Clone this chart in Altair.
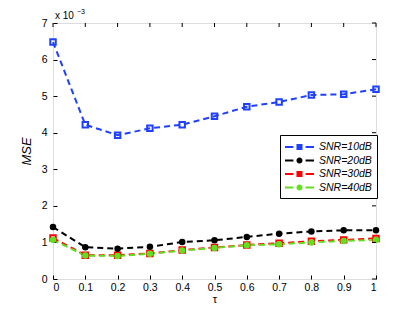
import altair as alt
import pandas as pd

tau = [0, 0.1, 0.2, 0.3, 0.4, 0.5, 0.6, 0.7, 0.8, 0.9, 1.0]
snr10 = [6.48, 4.22, 3.93, 4.12, 4.22, 4.45, 4.71, 4.84, 5.03, 5.05, 5.19]
snr20 = [1.42, 0.87, 0.83, 0.88, 1.01, 1.06, 1.15, 1.24, 1.30, 1.33, 1.33]
snr30 = [1.12, 0.65, 0.65, 0.70, 0.79, 0.86, 0.93, 0.98, 1.03, 1.07, 1.11]
snr40 = [1.07, 0.64, 0.63, 0.69, 0.78, 0.85, 0.92, 0.95, 1.00, 1.04, 1.07]
series = ["SNR=10dB", "SNR=20dB", "SNR=30dB", "SNR=40dB"]
colors = ["#2040ff", "#000000", "#ff0000", "#60e020"]
x_ticks = [0, 0.1, 0.2, 0.3, 0.4, 0.5, 0.6, 0.7, 0.8, 0.9, 1.0]
y_ticks = [0, 1, 2, 3, 4, 5, 6, 7]

rows = []
for name, vals in zip(series, [snr10, snr20, snr30, snr40]):
    for t, v in zip(tau, vals):
        rows.append({"tau": t, "mse": v, "series": name})
df = pd.DataFrame(rows)

# legend glyphs: dash - marker - dash (units scaled by sqrt(size)/2 = 7px)
sq = ("M-1,-0.14L0.2,-0.14L0.2,0.14L-1,0.14Z"
      "M0.64,-0.43L1.5,-0.43L1.5,0.43L0.64,0.43Z"
      "M1.94,-0.14L3.14,-0.14L3.14,0.14L1.94,0.14Z")
ci = ("M-1,-0.14L0.2,-0.14L0.2,0.14L-1,0.14Z"
      "M0.64,0A0.43,0.43,0,1,0,1.5,0A0.43,0.43,0,1,0,0.64,0Z"
      "M1.94,-0.14L3.14,-0.14L3.14,0.14L1.94,0.14Z")

FONT = "Liberation Sans"
xs = alt.Scale(domain=[0, 1], nice=False)
ys = alt.Scale(domain=[0, 7], nice=False)
cscale = alt.Scale(domain=series, range=colors)
shape_expr = ("(datum.value == 'SNR=20dB' || datum.value == 'SNR=40dB') ? '"
              + ci + "' : '" + sq + "'")
leg = alt.Legend(orient="none", legendX=227, legendY=112, title=None,
                 symbolType={"expr": shape_expr}, symbolSize=196, symbolStrokeWidth=0,
                 symbolOpacity=1,
                 labelFont=FONT, labelFontSize=10.5, labelFontStyle="italic",
                 labelColor="#000", strokeColor="#000", fillColor="white",
                 padding=5, rowPadding=0.5, labelOffset=20)

xaxis = alt.Axis(values=x_ticks, format="~g", orient="bottom", offset=-4, tickSize=4,
                 labelPadding=3, domain=False, grid=False, title="τ", titleFontWeight="normal",
                 titleFont=FONT, titleFontSize=11, labelFont=FONT, labelFontSize=10.5,
                 labelColor="#000", tickColor="#000", titlePadding=1, titleColor="#000",
                 labelOverlap=False)
yaxis = alt.Axis(values=y_ticks, orient="left", offset=-4, tickSize=4, labelPadding=6,
                 domain=False, grid=False, title="MSE", titleFontWeight="normal",
                 titleFontStyle="italic", titleFont=FONT, titleFontSize=13,
                 labelFont=FONT, labelFontSize=10.5, labelColor="#000", tickColor="#000",
                 titlePadding=8, titleColor="#000", labelOverlap=False)

X = alt.X("tau:Q", scale=xs, axis=xaxis)
Y = alt.Y("mse:Q", scale=ys, axis=yaxis)

base = alt.Chart(df)
lines = base.mark_line(strokeDash=[6, 4], strokeWidth=2).encode(
    x=X, y=Y,
    color=alt.Color("series:N", scale=cscale, legend=leg),
    detail="series:N",
)
sq_pts = base.transform_filter(
    alt.FieldOneOfPredicate(field="series", oneOf=["SNR=10dB", "SNR=30dB"])
).mark_point(shape="square", filled=False, size=30, strokeWidth=2, opacity=1).encode(
    x=X, y=Y,
    color=alt.Color("series:N", scale=cscale, legend=None))
ci_pts = base.transform_filter(
    alt.FieldOneOfPredicate(field="series", oneOf=["SNR=20dB", "SNR=40dB"])
).mark_point(shape="circle", filled=True, size=42, opacity=1).encode(
    x=X, y=Y,
    color=alt.Color("series:N", scale=cscale, legend=None))

# inward ticks on the top and right frame edges
xt_df = pd.DataFrame({"tau": x_ticks})
yt_df = pd.DataFrame({"mse": y_ticks})
top_ticks = alt.Chart(xt_df).mark_rule(color="#000", strokeWidth=1).encode(
    x=X, y=alt.value(0), y2=alt.value(4))
right_ticks = alt.Chart(yt_df).mark_rule(color="#000", strokeWidth=1).encode(
    y=Y, x=alt.value(319), x2=alt.value(323))

exp_df = pd.DataFrame({"tau": [0], "mse": [7]})
exp1 = alt.Chart(exp_df).mark_text(font=FONT, fontSize=10, align="left", dx=2, dy=-7, color="#000").encode(
    x=X, y=Y, text=alt.value("x 10"))
exp2 = alt.Chart(exp_df).mark_text(font=FONT, fontSize=7, align="left", dx=24, dy=-11, color="#000").encode(
    x=X, y=Y, text=alt.value("−3"))

chart = alt.layer(lines, sq_pts, ci_pts, top_ticks, right_ticks, exp1, exp2).properties(
    width=323, height=256,
    autosize=alt.AutoSizeParams(type="none"),
    padding={"left": 45, "top": 15, "right": 30, "bottom": 33},
).configure_view(stroke="#000", strokeWidth=1).configure(background="white")

chart.save("out.html", embed_options={"renderer": "svg", "actions": False})
